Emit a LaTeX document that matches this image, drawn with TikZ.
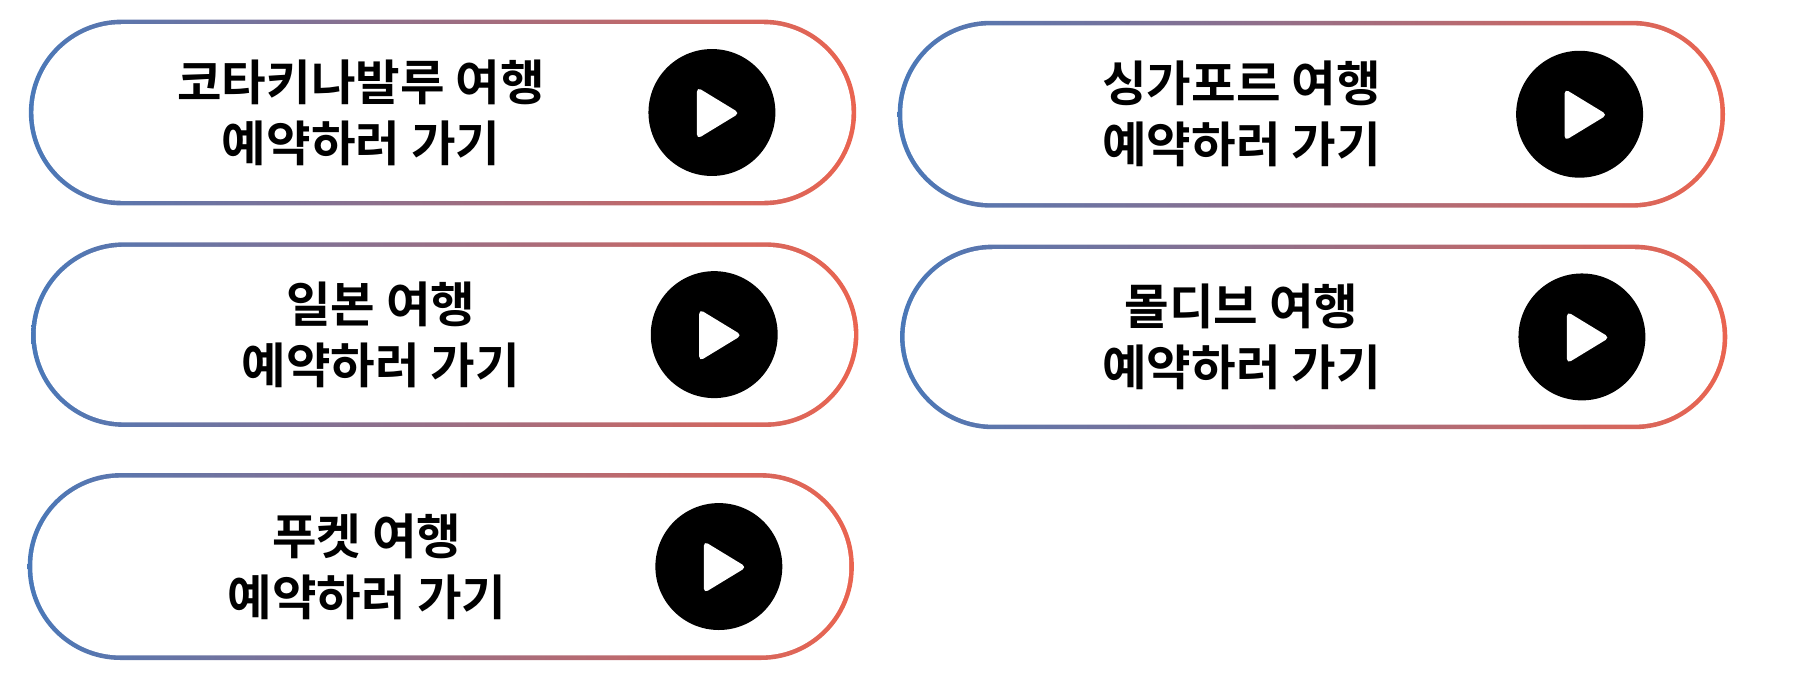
\documentclass[tikz,border=0pt]{standalone}
\usepackage{fontspec}
\newfontfamily\kr{Noto Sans CJK KR Bold}
\definecolor{lb}{HTML}{4A78B8}
\definecolor{rr}{HTML}{EA6450}
\newcommand{\mybtn}[8]{%
  \shade[left color=lb,right color=rr,rounded corners=40.25pt] (#2,#3) rectangle (#4,#5);
  \fill[white,rounded corners=38.25pt] (#2+4,#3+4) rectangle (#4-4,#5-4);
  \node[txt] (#1t) at (#7,{(#3+#5)/2}) {#6};
  \node[circle,fill=black,minimum size=55pt,inner sep=0pt] (#1c) at (#8,{(#3+#5)/2}) {};
  \fill[white,rounded corners=2pt] ([shift={(-13,-22)}]#1c.center) -- ([shift={(-13,23)}]#1c.center) -- ([shift={(24,0.5)}]#1c.center) -- cycle;
}
\begin{document}
\begin{tikzpicture}[x=0.5pt,y=-0.5pt,
  txt/.style={font=\kr\fontsize{21pt}{26.5pt}\selectfont,align=center,inner sep=0pt}]
\useasboundingbox (0,0) rectangle (1560,590);
\mybtn{a}{25}{17}{742}{178}{코타키나발루 여행\\예약하러 가기}{313}{617}
\mybtn{b}{778}{18}{1495}{180}{싱가포르 여행\\예약하러 가기}{1076}{1369}
\mybtn{c}{27}{210}{744}{370}{일본 여행\\예약하러 가기}{330}{619}
\mybtn{d}{780}{212}{1497}{372}{몰디브 여행\\예약하러 가기}{1076}{1371}
\mybtn{e}{24}{410}{740}{572}{푸켓 여행\\예약하러 가기}{318}{623}
\end{tikzpicture}
\end{document}
